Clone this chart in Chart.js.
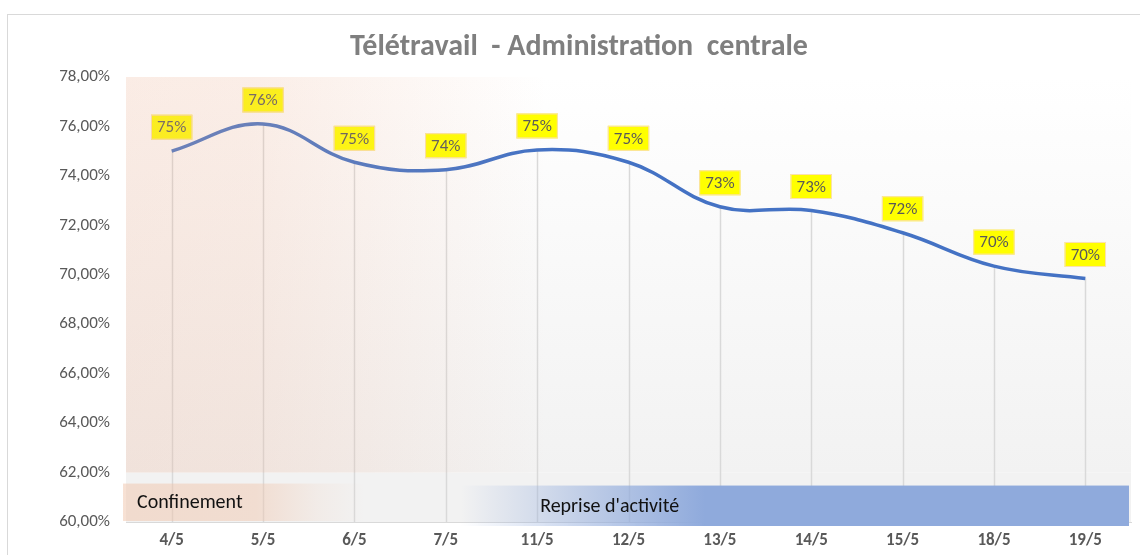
<!DOCTYPE html>
<html>
<head>
<meta charset="utf-8">
<script src="https://cdn.jsdelivr.net/npm/chart.js@4.4.1/dist/chart.umd.min.js"></script>
<style>
  body { margin: 0; background: #fff; }
  #wrap { position: relative; width: 1140px; height: 555px; overflow: hidden; }
  #frame { position: absolute; left: 7px; top: 14px; width: 1200px; height: 600px; border: 1px solid #d9d9d9; }
  #chart { position: absolute; left: 0; top: 0; }
</style>
</head>
<body>
<div id="wrap">
  <div id="frame"></div>
  <canvas id="chart" width="1140" height="555"></canvas>
</div>
<script>
var dates = ['4/5', '5/5', '6/5', '7/5', '11/5', '12/5', '13/5', '14/5', '15/5', '18/5', '19/5'];
var teletravail = [75.0, 76.1, 74.55, 74.25, 75.05, 74.55, 72.75, 72.6, 71.7, 70.35, 69.85];
var periods = ['Confinement', "Reprise d'activité"];

var FONT = 'Carlito, Lato, "Open Sans", sans-serif';

// fond de la zone de tracé
var backgroundPlugin = {
  id: 'fond',
  beforeDatasetsDraw: function (chart) {
    var ctx = chart.ctx, a = chart.chartArea;
    var y = chart.scales.y;
    var y62 = y.getPixelForValue(62);
    var grad = ctx.createLinearGradient(0, a.top, 0, y62);
    grad.addColorStop(0, '#ffffff');
    grad.addColorStop(1, '#f2f2f2');
    ctx.save();
    ctx.fillStyle = grad;
    ctx.fillRect(a.left, a.top, a.right - a.left, y62 - a.top);
    ctx.fillStyle = '#f2f2f2';
    ctx.fillRect(a.left, y62, a.right - a.left, a.bottom - y62);

    // lignes de projection
    var meta = chart.getDatasetMeta(0);
    ctx.strokeStyle = '#d9d9d9';
    ctx.lineWidth = 1.5;
    meta.data.forEach(function (pt) {
      ctx.beginPath();
      ctx.moveTo(Math.round(pt.x) + 0.5, pt.y);
      ctx.lineTo(Math.round(pt.x) + 0.5, a.bottom);
      ctx.stroke();
    });
    ctx.restore();
  }
};

// étiquettes jaunes
var labelPlugin = {
  id: 'etiquettes',
  afterDatasetsDraw: function (chart) {
    var ctx = chart.ctx;
    var meta = chart.getDatasetMeta(0);
    ctx.save();
    ctx.font = '17px ' + FONT;
    ctx.textAlign = 'center';
    ctx.textBaseline = 'middle';
    meta.data.forEach(function (pt, i) {
      var txt = Math.round(teletravail[i]) + '%';
      var w = ctx.measureText(txt).width + 12;
      var h = 25;
      var cx = pt.x, cy = pt.y - 24;
      ctx.fillStyle = '#ffff00';
      ctx.fillRect(cx - w / 2, cy - h / 2, w, h);
      ctx.strokeStyle = '#fbe0b0';
      ctx.lineWidth = 1;
      ctx.strokeRect(cx - w / 2 + 0.5, cy - h / 2 + 0.5, w - 1, h - 1);
      ctx.fillStyle = '#595959';
      ctx.fillText(txt, cx, cy + 1);
    });
    ctx.restore();
  }
};

// voile rose du confinement et bandeaux des périodes
var periodPlugin = {
  id: 'periodes',
  afterDraw: function (chart) {
    var ctx = chart.ctx, a = chart.chartArea;
    var x = chart.scales.x, y = chart.scales.y;
    var y62 = y.getPixelForValue(62);
    ctx.save();

    var veilEnd = x.getPixelForValue(4) + 10;
    var veil = ctx.createLinearGradient(a.left, 0, veilEnd, 0);
    veil.addColorStop(0, 'rgba(236,176,146,0.24)');
    veil.addColorStop(0.3, 'rgba(236,176,146,0.22)');
    veil.addColorStop(1, 'rgba(236,176,146,0)');
    ctx.fillStyle = veil;
    ctx.fillRect(a.left, a.top, veilEnd - a.left, y62 - a.top);

    var bTop = y62 + 11;
    var pinkEnd = x.getPixelForValue(2) + 10;
    var pink = ctx.createLinearGradient(a.left - 3, 0, pinkEnd, 0);
    pink.addColorStop(0, 'rgba(240,196,170,0.5)');
    pink.addColorStop(0.55, 'rgba(240,196,170,0.46)');
    pink.addColorStop(0.8, 'rgba(240,196,170,0.15)');
    pink.addColorStop(1, 'rgba(240,196,170,0)');
    ctx.fillStyle = pink;
    ctx.fillRect(a.left - 3, bTop, pinkEnd - a.left + 3, a.bottom - 1 - bTop);

    var blueStart = x.getPixelForValue(3) + 15;
    var blueFull = x.getPixelForValue(6) - 15;
    var blueEnd = a.right - 2;
    var blue = ctx.createLinearGradient(blueStart, 0, blueEnd, 0);
    blue.addColorStop(0, 'rgba(143,170,220,0)');
    blue.addColorStop((blueFull - blueStart) / (blueEnd - blueStart), 'rgba(143,170,220,1)');
    blue.addColorStop(1, 'rgba(143,170,220,1)');
    ctx.fillStyle = blue;
    ctx.fillRect(blueStart, bTop + 2, blueEnd - blueStart, a.bottom + 4 - bTop - 2);

    ctx.fillStyle = '#111111';
    ctx.font = '20px ' + FONT;
    ctx.textBaseline = 'middle';
    ctx.textAlign = 'left';
    ctx.fillText(periods[0], a.left + 11, (bTop + a.bottom) / 2);
    ctx.fillText(periods[1], x.getPixelForValue(4) + 3, (bTop + a.bottom) / 2 + 4);
    ctx.restore();
  }
};

new Chart(document.getElementById('chart'), {
  type: 'line',
  data: {
    labels: dates,
    datasets: [{
      data: teletravail,
      borderColor: '#4472c4',
      borderWidth: 3.5,
      tension: 0.4,
      pointRadius: 0,
      fill: false
    }]
  },
  options: {
    responsive: false,
    animation: false,
    layout: { padding: { left: 27, right: 9, top: 0, bottom: 0 } },
    plugins: {
      legend: { display: false },
      tooltip: { enabled: false },
      title: {
        display: true,
        text: 'Télétravail  - Administration  centrale',
        color: '#7f7f7f',
        font: { family: FONT, size: 30, weight: 'bold', lineHeight: 1.2 },
        padding: { top: 29, bottom: 12 }
      }
    },
    scales: {
      x: {
        offset: true,
        afterFit: function (scale) { scale.height = 33; },
        grid: { display: false, drawTicks: false },
        border: { color: '#d9d9d9', width: 1 },
        ticks: {
          padding: 9,
          color: '#595959',
          font: { family: FONT, size: 17, weight: 'bold' }
        }
      },
      y: {
        min: 60,
        max: 78,
        afterFit: function (scale) { scale.width = 99; },
        grid: { display: false, drawTicks: false },
        border: { display: false },
        ticks: {
          stepSize: 2,
          padding: 16,
          color: '#595959',
          font: { family: FONT, size: 17 },
          callback: function (v) { return v.toFixed(2).replace('.', ',') + '%'; }
        }
      }
    }
  },
  plugins: [backgroundPlugin, labelPlugin, periodPlugin]
});
</script>
</body>
</html>
